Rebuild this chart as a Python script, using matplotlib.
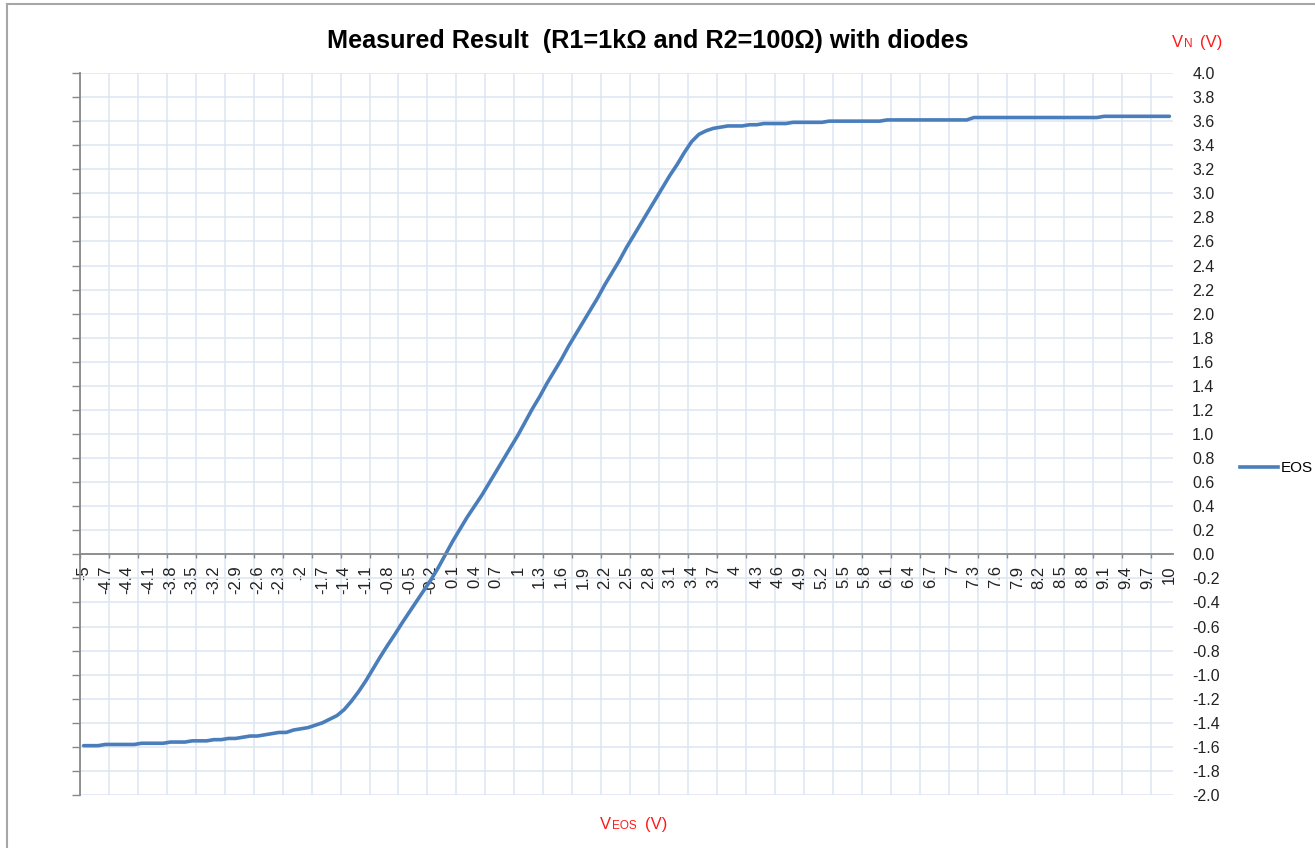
import matplotlib
matplotlib.use("Agg")
import matplotlib.pyplot as plt
from matplotlib.lines import Line2D
from matplotlib.ticker import FixedLocator, FixedFormatter, NullFormatter

plt.rcParams["font.family"] = ["Liberation Sans", "DejaVu Sans"]
plt.rcParams["axes.unicode_minus"] = False

TITLE = "Measured Result  (R1=1kΩ and R2=100Ω) with diodes"
SERIES_NAME = "EOS"

# category axis: V_EOS swept from -5 V to 10 V in 0.1 V steps
V_EOS = [round(-5 + 0.1 * k, 1) for k in range(151)]

# measured V_N, one value per V_EOS step
V_N = [
    -1.59, -1.59, -1.59, -1.58, -1.58, -1.58, -1.58, -1.58, -1.57, -1.57,
    -1.57, -1.57, -1.56, -1.56, -1.56, -1.55, -1.55, -1.55, -1.54, -1.54,
    -1.53, -1.53, -1.52, -1.51, -1.51, -1.50, -1.49, -1.48, -1.48, -1.46,
    -1.45, -1.44, -1.42, -1.40, -1.37, -1.34, -1.29, -1.22, -1.14, -1.05,
    -0.95, -0.85, -0.755, -0.665, -0.57, -0.48, -0.39, -0.30, -0.21, -0.11,
    0.00, 0.11, 0.21, 0.31, 0.40, 0.49, 0.59, 0.69, 0.79, 0.89,
    0.99, 1.10, 1.21, 1.31, 1.42, 1.52, 1.62, 1.73, 1.83, 1.93,
    2.03, 2.13, 2.24, 2.34, 2.44, 2.55, 2.65, 2.75, 2.85, 2.95,
    3.05, 3.15, 3.24, 3.34, 3.43, 3.49, 3.52, 3.54, 3.55, 3.56,
    3.56, 3.56, 3.57, 3.57, 3.58, 3.58, 3.58, 3.58, 3.59, 3.59,
    3.59, 3.59, 3.59, 3.60, 3.60, 3.60, 3.60, 3.60, 3.60, 3.60,
    3.60, 3.61, 3.61, 3.61, 3.61, 3.61, 3.61, 3.61, 3.61, 3.61,
    3.61, 3.61, 3.61, 3.63, 3.63, 3.63, 3.63, 3.63, 3.63, 3.63,
    3.63, 3.63, 3.63, 3.63, 3.63, 3.63, 3.63, 3.63, 3.63, 3.63,
    3.63, 3.64, 3.64, 3.64, 3.64, 3.64, 3.64, 3.64, 3.64, 3.64,
    3.64,
]

Y_TICKS = [round(-2 + 0.2 * k, 1) for k in range(31)]
LABEL_EVERY = 3   # category label interval
TICK_EVERY = 4    # tick mark / gridline interval

W, H = 1315, 848
LINE_COLOR = "#4a7ebb"
GRID_COLOR = "#dce6f2"
AXIS_COLOR = "#888888"
RED = "#ff1a1a"


def fx(px):
    return px / W


def fy(py):
    return 1 - py / H


def text_runs(fig, x_px, y_px, runs, color):
    # consecutive text pieces on one baseline (big V + small caps subscript)
    renderer = fig.canvas.get_renderer()
    x = x_px
    for s, size, gap in runs:
        x += gap
        t = fig.text(fx(x), fy(y_px), s, fontsize=size, color=color, ha="left", va="baseline")
        x += t.get_window_extent(renderer).width


def main():
    fig = plt.figure(figsize=(W / 100, H / 100), dpi=100)
    ax = fig.add_axes([fx(80), fy(795), (1173 - 80) / W, (795 - 73) / H])

    idx = list(range(len(V_EOS)))
    ax.plot(idx, V_N, color=LINE_COLOR, linewidth=2.6, solid_capstyle="round",
            solid_joinstyle="round", zorder=3)

    ax.set_xlim(-0.5, len(V_EOS) - 0.5)
    ax.set_ylim(-2, 4)

    # x: tick marks + gridlines between categories, labels on every 3rd category
    major = [k - 0.5 for k in range(0, len(V_EOS), TICK_EVERY)]
    label_pos = idx[::LABEL_EVERY]
    ax.xaxis.set_major_locator(FixedLocator(major))
    ax.xaxis.set_major_formatter(NullFormatter())
    ax.xaxis.set_minor_locator(FixedLocator(label_pos))
    ax.xaxis.set_minor_formatter(FixedFormatter([f"{V_EOS[i]:g}" for i in label_pos]))
    ax.tick_params(axis="x", which="major", direction="out", length=3, width=1, color=AXIS_COLOR)
    ax.tick_params(axis="x", which="minor", length=0, pad=8, labelsize=12,
                   labelcolor="#222222", labelrotation=90)

    ax.set_yticks(Y_TICKS)
    ax.set_yticklabels([f"{v:.1f}" for v in Y_TICKS])
    ax.tick_params(axis="y", direction="out", length=5.8, width=1, color=AXIS_COLOR,
                   left=True, right=False, labelleft=False, labelright=True,
                   pad=8, labelsize=11.5, labelcolor="#222222")

    ax.grid(which="major", color=GRID_COLOR, linewidth=1.1)
    ax.set_axisbelow(True)

    ax.spines[["top", "right"]].set_visible(False)
    ax.spines["bottom"].set_position(("data", 0))
    for side in ("left", "bottom"):
        ax.spines[side].set_color(AXIS_COLOR)
        ax.spines[side].set_linewidth(1.3)
        ax.spines[side].set_zorder(4)

    fig.text(fx(648), fy(48), TITLE, fontsize=18.2, fontweight="bold",
             ha="center", va="baseline", color="black")

    text_runs(fig, 1172, 47, [("V", 12, 0), ("N", 8.5, 1), ("(V)", 12, 7)], RED)
    text_runs(fig, 600, 829, [("V", 12, 0), ("EOS", 8.5, 1), ("(V)", 12, 8)], RED)

    handle = Line2D([], [], color=LINE_COLOR, linewidth=2.6)
    fig.legend([handle], [SERIES_NAME], loc="center left", bbox_to_anchor=(fx(1240), fy(468)),
               frameon=False, borderpad=0, borderaxespad=0, handlelength=2.5,
               handletextpad=0.15, fontsize=11)

    # chart area border (only left and top edges are inside the picture)
    fig.add_artist(Line2D([fx(7), fx(7)], [0, fy(4)], color="#a6a6a6", linewidth=1.5))
    fig.add_artist(Line2D([fx(7), 1], [fy(4), fy(4)], color="#a6a6a6", linewidth=1.5))

    fig.savefig("out.png", dpi=100)
    plt.close(fig)


if __name__ == "__main__":
    main()
